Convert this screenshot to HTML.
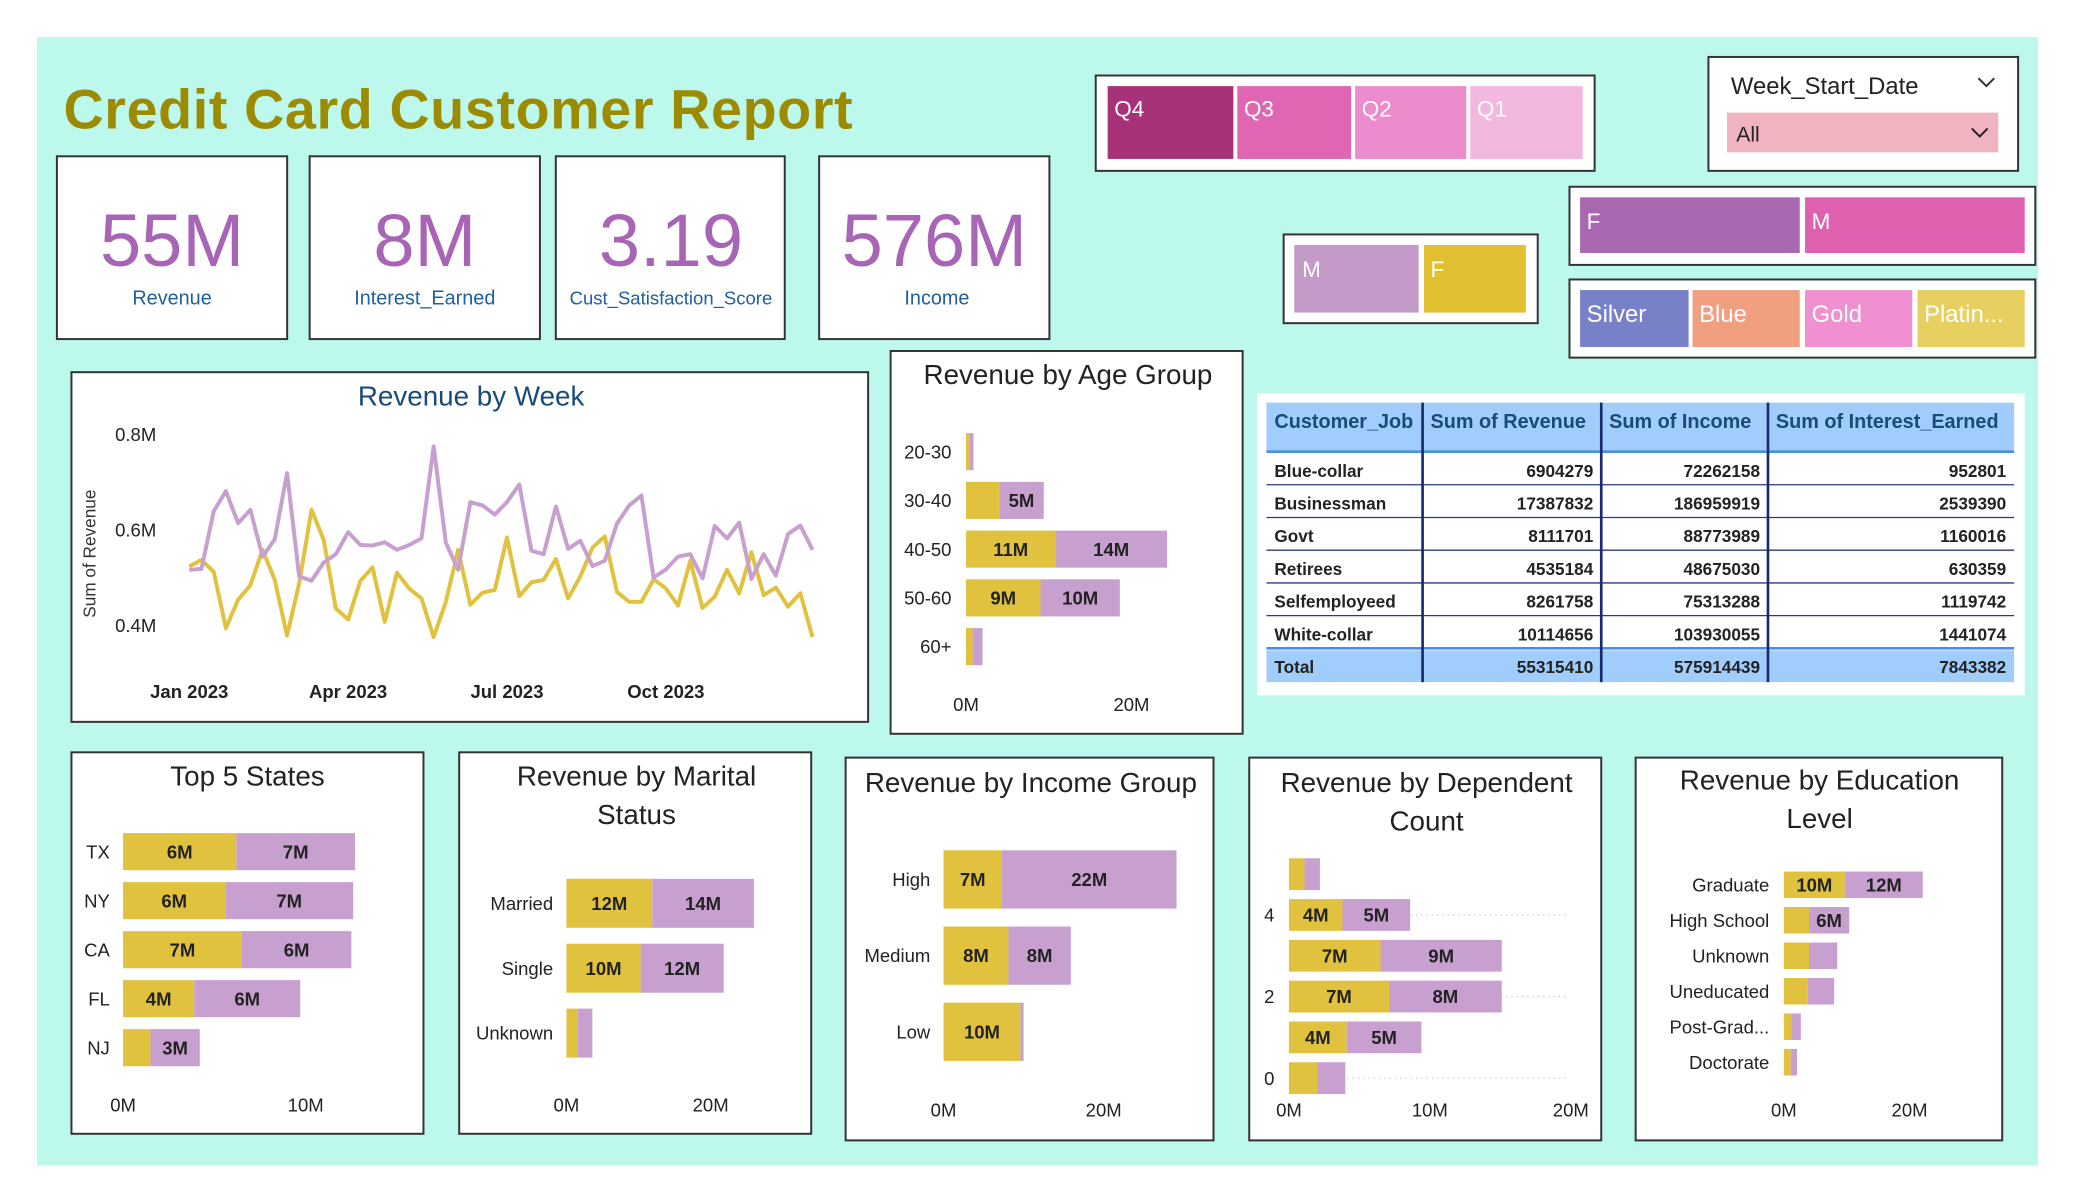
<!DOCTYPE html>
<html><head><meta charset="utf-8">
<style>
html,body{margin:0;padding:0;background:#fff;}
svg{display:block;font-family:"Liberation Sans",sans-serif;}
</style></head>
<body>
<svg id="dash" width="2075" height="1200" viewBox="0 0 1568 906" preserveAspectRatio="none" xmlns="http://www.w3.org/2000/svg">
<rect x="28" y="28" width="1512" height="852" fill="#bdf8ec"/>
<text x="48" y="97" font-size="42" font-weight="bold" fill="#9c8a00" letter-spacing="0.5">Credit Card Customer Report</text>

<g><rect x="43" y="118" width="174" height="138" fill="#fff" stroke="#333" stroke-width="1.5"/><text x="130" y="201" text-anchor="middle" font-size="56" fill="#a865b5">55M</text><text x="130" y="230" text-anchor="middle" font-size="15" fill="#1f5fa0">Revenue</text></g>
<g><rect x="234" y="118" width="174" height="138" fill="#fff" stroke="#333" stroke-width="1.5"/><text x="321" y="201" text-anchor="middle" font-size="56" fill="#a865b5">8M</text><text x="321" y="230" text-anchor="middle" font-size="15" fill="#1f5fa0">Interest_Earned</text></g>
<g><rect x="420" y="118" width="173" height="138" fill="#fff" stroke="#333" stroke-width="1.5"/><text x="507" y="201" text-anchor="middle" font-size="56" fill="#a865b5">3.19</text><text x="507" y="230" text-anchor="middle" font-size="14" fill="#1f5fa0">Cust_Satisfaction_Score</text></g>
<g><rect x="619" y="118" width="174" height="138" fill="#fff" stroke="#333" stroke-width="1.5"/><text x="706" y="201" text-anchor="middle" font-size="56" fill="#a865b5">576M</text><text x="708" y="230" text-anchor="middle" font-size="15" fill="#1f5fa0">Income</text></g>

<g>
<rect x="828" y="57" width="377" height="72" fill="#fff" stroke="#333" stroke-width="1.5"/>
<g><rect x="837" y="65" width="95" height="55" fill="#a83278"/><text x="842" y="88" font-size="17" fill="#fff">Q4</text></g>
<g><rect x="935" y="65" width="86" height="55" fill="#e066b4"/><text x="940" y="88" font-size="17" fill="#fff">Q3</text></g>
<g><rect x="1024" y="65" width="84" height="55" fill="#ec8ccc"/><text x="1029" y="88" font-size="17" fill="#fff">Q2</text></g>
<g><rect x="1111" y="65" width="85" height="55" fill="#f2b8de"/><text x="1116" y="88" font-size="17" fill="#fff">Q1</text></g>
</g>

<g>
<rect x="1291" y="43" width="234" height="86" fill="#fff" stroke="#333" stroke-width="1.5"/>
<text x="1308" y="71" font-size="18" fill="#222">Week_Start_Date</text>
<path d="M1495 59 l6 6 l6 -6" fill="none" stroke="#333" stroke-width="1.5"/>
<g><rect x="1305" y="85" width="205" height="30" fill="#f0b4c0"/><text x="1312" y="107" font-size="16" fill="#222">All</text><path d="M1490 97 l6 6 l6 -6" fill="none" stroke="#222" stroke-width="1.5"/></g>
</g>

<g>
<rect x="970" y="177" width="192" height="67" fill="#fff" stroke="#333" stroke-width="1.5"/>
<g><rect x="978" y="185" width="94" height="51" fill="#c49ac8"/><text x="984" y="209" font-size="17" fill="#fff">M</text></g>
<g><rect x="1076" y="185" width="77" height="51" fill="#e0c030"/><text x="1081" y="209" font-size="17" fill="#fff">F</text></g>
</g>
<g>
<rect x="1186" y="141" width="352" height="59" fill="#fff" stroke="#333" stroke-width="1.5"/>
<g><rect x="1194" y="149" width="166" height="42" fill="#a868b0"/><text x="1199" y="173" font-size="17" fill="#fff">F</text></g>
<g><rect x="1364" y="149" width="166" height="42" fill="#e060b0"/><text x="1369" y="173" font-size="17" fill="#fff">M</text></g>
</g>
<g>
<rect x="1186" y="211" width="352" height="59" fill="#fff" stroke="#333" stroke-width="1.5"/>
<g><rect x="1194" y="219" width="82" height="43" fill="#7880c8"/><text x="1199" y="243" font-size="18" fill="#fff">Silver</text></g>
<g><rect x="1279" y="219" width="81" height="43" fill="#f0a080"/><text x="1284" y="243" font-size="18" fill="#fff">Blue</text></g>
<g><rect x="1364" y="219" width="81" height="43" fill="#f090d0"/><text x="1369" y="243" font-size="18" fill="#fff">Gold</text></g>
<g><rect x="1449" y="219" width="81" height="43" fill="#e8d060"/><text x="1454" y="243" font-size="18" fill="#fff">Platin...</text></g>
</g>

<g id="table">
<rect x="950" y="297" width="580" height="228" fill="#fff"/>
<rect x="957" y="304" width="565" height="37" fill="#a0cdfb"/>
<rect x="957" y="491" width="565" height="24" fill="#a0cdfb"/>
</g>

<g id="week">
<rect x="54" y="281" width="602" height="264" fill="#fff" stroke="#333" stroke-width="1.5"/>
<text x="356" y="306" text-anchor="middle" font-size="21" fill="#1a4a7a">Revenue by Week</text>
<text transform="translate(72,418) rotate(-90)" text-anchor="middle" font-size="13" fill="#333">Sum of Revenue</text>
</g>

<g id="age"><rect x="673" y="265" width="266" height="289" fill="#fff" stroke="#333" stroke-width="1.5"/><text x="807" y="290" text-anchor="middle" font-size="21" fill="#222">Revenue by Age Group</text></g>
<g id="states"><rect x="54" y="568" width="266" height="288" fill="#fff" stroke="#333" stroke-width="1.5"/><text x="187" y="593" text-anchor="middle" font-size="21" fill="#222">Top 5 States</text></g>
<g id="marital"><rect x="347" y="568" width="266" height="288" fill="#fff" stroke="#333" stroke-width="1.5"/><text x="481" y="593" text-anchor="middle" font-size="21" fill="#222">Revenue by Marital</text><text x="481" y="622" text-anchor="middle" font-size="21" fill="#222">Status</text></g>
<g id="income"><rect x="639" y="572" width="278" height="289" fill="#fff" stroke="#333" stroke-width="1.5"/><text x="779" y="598" text-anchor="middle" font-size="21" fill="#222">Revenue by Income Group</text></g>
<g id="dep"><rect x="944" y="572" width="266" height="289" fill="#fff" stroke="#333" stroke-width="1.5"/><text x="1078" y="598" text-anchor="middle" font-size="21" fill="#222">Revenue by Dependent</text><text x="1078" y="627" text-anchor="middle" font-size="21" fill="#222">Count</text></g>
<g id="edu"><rect x="1236" y="572" width="277" height="289" fill="#fff" stroke="#333" stroke-width="1.5"/><text x="1375" y="596" text-anchor="middle" font-size="21" fill="#222">Revenue by Education</text><text x="1375" y="625" text-anchor="middle" font-size="21" fill="#222">Level</text></g>
</svg>
<script>
const NS='http://www.w3.org/2000/svg';
const YEL='#e1c23e', PUR='#c8a0d0';
// ---- Week line chart data ----
const weekPurple=[0.516,0.518,0.639,0.681,0.614,0.642,0.544,0.580,0.719,0.502,0.493,0.531,0.549,0.595,0.568,0.567,0.574,0.558,0.568,0.582,0.775,0.573,0.516,0.658,0.651,0.632,0.658,0.695,0.556,0.549,0.649,0.560,0.577,0.524,0.535,0.613,0.651,0.672,0.500,0.517,0.544,0.549,0.498,0.608,0.582,0.615,0.497,0.549,0.504,0.591,0.609,0.558];
const weekYellow=[0.523,0.537,0.512,0.394,0.453,0.484,0.558,0.495,0.378,0.488,0.642,0.579,0.435,0.412,0.493,0.521,0.407,0.510,0.477,0.456,0.375,0.449,0.558,0.443,0.468,0.474,0.584,0.461,0.490,0.495,0.539,0.456,0.502,0.563,0.586,0.470,0.449,0.449,0.496,0.477,0.441,0.535,0.436,0.460,0.516,0.467,0.553,0.463,0.479,0.439,0.467,0.375];
const weekYTicks=[0.4,0.6,0.8];
const weekYTickLabels=['0.4M','0.6M','0.8M'];
const weekXTickIdx=[0,13,26,39];
const weekXTickLabels=['Jan 2023','Apr 2023','Jul 2023','Oct 2023'];
// ---- Bar charts ----
const ageCats=['20-30','30-40','40-50','50-60','60+'];
const ageYellow=[0.4,4.0,10.8,9.0,0.8];
const agePurple=[0.5,5.4,13.5,9.6,1.2];
const stateCats=['TX','NY','CA','FL','NJ'];
const stateYellow=[6.2,5.6,6.5,3.9,1.5];
const statePurple=[6.5,7.0,6.0,5.8,2.7];
const maritalCats=['Married','Single','Unknown'];
const maritalYellow=[11.9,10.3,1.6];
const maritalPurple=[14.1,11.5,2.0];
const incomeCats=['High','Medium','Low'];
const incomeYellow=[7.3,8.1,9.6];
const incomePurple=[21.8,7.8,0.4];
const depCats=['','4','','2','','0'];
const depYellow=[1.1,3.8,6.5,7.1,4.1,2.0];
const depPurple=[1.1,4.8,8.6,8.0,5.3,2.0];
const eduCats=['Graduate','High School','Unknown','Uneducated','Post-Grad...','Doctorate'];
const eduYellow=[9.7,4.0,4.0,3.8,1.2,1.1];
const eduPurple=[12.4,6.4,4.5,4.2,1.5,1.0];
const tableHead=['Customer_Job','Sum of Revenue','Sum of Income','Sum of Interest_Earned'];
const tableRows=[['Blue-collar',6904279,72262158,952801],['Businessman',17387832,186959919,2539390],['Govt',8111701,88773989,1160016],['Retirees',4535184,48675030,630359],['Selfemployeed',8261758,75313288,1119742],['White-collar',10114656,103930055,1441074]];
const tableTotal=['Total',55315410,575914439,7843382];

function mk(tag,attrs,parent){const e=document.createElementNS(NS,tag);for(const k in attrs)e.setAttribute(k,attrs[k]);parent.appendChild(e);return e;}
function txt(s,attrs,parent){const e=mk('text',attrs,parent);e.textContent=s;return e;}

// Week chart
(function(){
 const g=document.getElementById('week');
 const n=weekPurple.length;
 const xs=i=>143+i*(614-143)/(n-1);
 const ys=v=>472-(v-0.4)/0.2*72;
 weekYTicks.forEach((t,i)=>{const e=txt(weekYTickLabels[i],{x:87,y:ys(t)+5,'font-size':14,fill:'#222'},g);
 
 });
 weekXTickIdx.forEach((t,i)=>{const e=txt(weekXTickLabels[i],{x:xs(t),y:527,'text-anchor':'middle','font-size':14,'font-weight':'bold',fill:'#222'},g);
 
 });
 [[weekYellow,YEL,'line-series-yellow'],[weekPurple,PUR,'line-series-purple']].forEach(([arr,c,name])=>{
  const p=mk('polyline',{points:arr.map((v,i)=>xs(i).toFixed(1)+','+ys(v).toFixed(1)).join(' '),fill:'none',stroke:c,'stroke-width':3,'stroke-linejoin':'round'},g);
  
  
 });
})();

// generic stacked hbar
function hbar(id,cats,yel,pur,o){
 const g=document.getElementById(id);
 const xs=v=>o.x0+v*o.ppm;
 if(o.grid){o.grid.forEach(i=>{const y=o.y0+i*o.step;const l=mk('line',{x1:o.x0,x2:o.gridEnd,y1:y,y2:y,stroke:'#ccc','stroke-dasharray':'1,3'},g);
  
  });}
 cats.forEach((c,i)=>{
  const y=o.y0+i*o.step;
  if(c){const t=txt(c,{x:o.labelX,y:y+5,'text-anchor':'end','font-size':o.catSize||14,fill:'#222'},g);
   
   }
  const r1=mk('rect',{x:xs(0),y:y-o.h/2,width:yel[i]*o.ppm,height:o.h,fill:YEL},g);
  
  
  const r2=mk('rect',{x:xs(yel[i]),y:y-o.h/2,width:pur[i]*o.ppm,height:o.h,fill:PUR},g);
  
  
  [[0,yel[i]],[yel[i],pur[i]]].forEach(([s,v])=>{
   if(v*o.ppm>=28){const l=txt(Math.round(v)+'M',{x:xs(s+v/2),y:y+5,'text-anchor':'middle','font-size':14,'font-weight':'bold',fill:'#222'},g);
    
    }
  });
 });
 o.ticks.forEach(t=>{const e=txt(t+'M',{x:xs(t),y:o.tickY,'text-anchor':'middle','font-size':14,fill:'#222'},g);
  
  });
}
hbar('age',ageCats,ageYellow,agePurple,{x0:730,ppm:6.25,y0:341,step:36.8,h:28,labelX:719,ticks:[0,20],tickY:537});
hbar('states',stateCats,stateYellow,statePurple,{x0:93,ppm:13.8,y0:643,step:37,h:28,labelX:83,ticks:[0,10],tickY:839});
hbar('marital',maritalCats,maritalYellow,maritalPurple,{x0:428,ppm:5.45,y0:682,step:49,h:37,labelX:418,ticks:[0,20],tickY:839});
hbar('income',incomeCats,incomeYellow,incomePurple,{x0:713,ppm:6.05,y0:664,step:57.5,h:44,labelX:703,ticks:[0,20],tickY:843});
hbar('dep',depCats,depYellow,depPurple,{x0:974,ppm:10.65,y0:660,step:30.8,h:24,labelX:963,ticks:[0,10,20],tickY:843,grid:[1,3,5],gridEnd:1185});
hbar('edu',eduCats,eduYellow,eduPurple,{x0:1348,ppm:4.75,y0:668,step:26.8,h:20,labelX:1337,ticks:[0,20],tickY:843});

// table
(function(){
 const g=document.getElementById('table');
 const cols=[957,1075,1210,1336,1522];
 tableHead.forEach((h,i)=>{const t=txt(h,{x:cols[i]+6,y:323,'font-size':15,'font-weight':'bold',fill:'#1a4a7a'},g);
  
  });
 const all=tableRows.concat([tableTotal]);
 all.forEach((r,ri)=>{
  const y=360+ri*24.7;
  r.forEach((v,ci)=>{
   const t=txt(String(v),ci===0?{x:cols[0]+6,y:y,'font-size':13,'font-weight':'bold',fill:'#222'}:{x:cols[ci+1]-6,y:y,'text-anchor':'end','font-size':13,'font-weight':'bold',fill:'#222'},g);
   
   
  });
  const ly=366+ri*24.7;
  if(ri<all.length-1){const l=mk('line',{x1:957,x2:1522,y1:ly,y2:ly,stroke:ri===all.length-2?'#4a90e0':'#2a3a80','stroke-width':ri===all.length-2?2:1},g);
  
  }
 });
 const hl=mk('line',{x1:957,x2:1522,y1:341,y2:341,stroke:'#4a90e0','stroke-width':2},g);
 
 
 [1,2,3].forEach(i=>{const l=mk('line',{x1:cols[i],x2:cols[i],y1:304,y2:515,stroke:'#1a2a70','stroke-width':2},g);
  
  });
})();
</script>
</body></html>
